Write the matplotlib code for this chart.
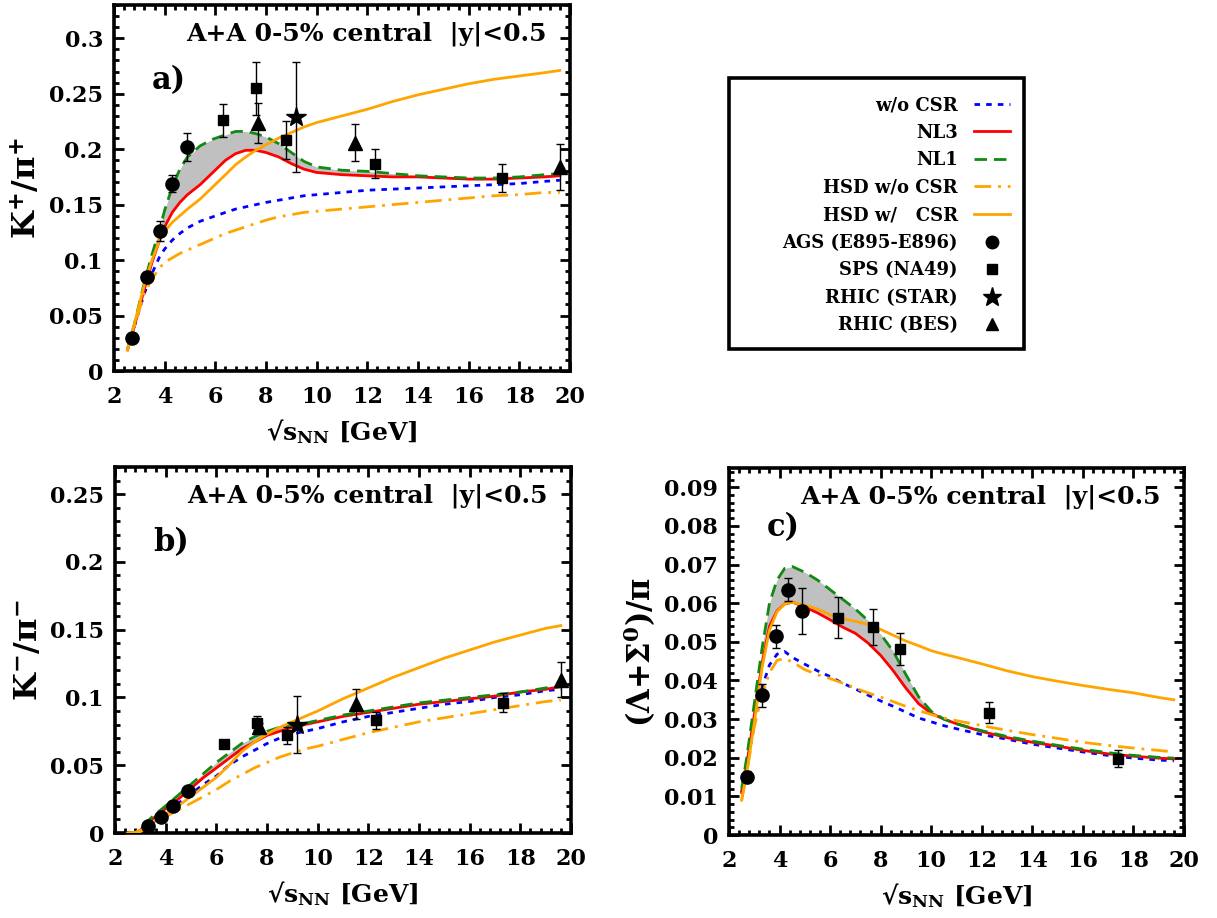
import matplotlib
matplotlib.use('Agg')
import matplotlib.pyplot as plt
from matplotlib.lines import Line2D
from matplotlib.patches import Rectangle
from matplotlib.ticker import MultipleLocator, FuncFormatter

plt.rcParams['font.family'] = ['DejaVu Serif']
plt.rcParams['font.weight'] = 'bold'
plt.rcParams['mathtext.fontset'] = 'dejavuserif'
plt.rcParams['mathtext.default'] = 'bf'

# ---------------- Panel a: K+/pi+ ----------------
xa = [2.53, 2.8, 3.2, 3.5, 3.8, 4.0, 4.3, 4.6, 4.9, 5.4, 5.9, 6.4, 6.8, 7.2, 7.6,
      8.0, 8.5, 9.0, 9.5, 10.0, 11, 12, 13, 14, 15, 16, 17, 18, 19, 19.6]
a_nl1 = [0.019, 0.042, 0.080, 0.105, 0.128, 0.145, 0.166, 0.182, 0.193, 0.203, 0.209, 0.213,
         0.216, 0.216, 0.214, 0.211, 0.205, 0.197, 0.189, 0.184, 0.181, 0.180, 0.178, 0.176,
         0.175, 0.174, 0.174, 0.175, 0.177, 0.178]
a_nl3 = [0.019, 0.040, 0.074, 0.098, 0.118, 0.130, 0.143, 0.152, 0.159, 0.168, 0.179, 0.190,
         0.196, 0.199, 0.199, 0.197, 0.193, 0.187, 0.182, 0.179, 0.177, 0.176, 0.175, 0.175,
         0.174, 0.173, 0.173, 0.174, 0.175, 0.176]
a_wo = [0.019, 0.040, 0.070, 0.088, 0.103, 0.110, 0.118, 0.124, 0.129, 0.135, 0.139, 0.143,
        0.146, 0.148, 0.150, 0.152, 0.154, 0.156, 0.158, 0.159, 0.161, 0.163, 0.164, 0.165,
        0.166, 0.167, 0.168, 0.169, 0.171, 0.172]
a_hsd_wo = [0.019, 0.040, 0.070, 0.083, 0.093, 0.098, 0.102, 0.106, 0.109, 0.114, 0.119, 0.124,
            0.127, 0.130, 0.133, 0.136, 0.139, 0.141, 0.143, 0.144, 0.146, 0.148, 0.150, 0.152,
            0.154, 0.156, 0.158, 0.159, 0.161, 0.161]
a_hsd_w = [0.019, 0.042, 0.078, 0.100, 0.118, 0.126, 0.134, 0.140, 0.146, 0.155, 0.166, 0.177,
           0.186, 0.193, 0.199, 0.204, 0.210, 0.215, 0.220, 0.224, 0.230, 0.236, 0.243, 0.249,
           0.254, 0.259, 0.263, 0.266, 0.269, 0.271]
a_ags_x = [2.7, 3.3, 3.8, 4.3, 4.9]
a_ags_y = [0.030, 0.085, 0.126, 0.169, 0.202]
a_ags_e = [0.003, 0.004, 0.009, 0.008, 0.013]
a_sps_x = [6.3, 7.6, 8.8, 12.3, 17.3]
a_sps_y = [0.226, 0.255, 0.208, 0.187, 0.174]
a_sps_e = [0.015, 0.024, 0.017, 0.013, 0.013]
a_star_x = [9.2]
a_star_y = [0.229]
a_star_e = [0.050]
a_bes_x = [7.7, 11.5, 19.6]
a_bes_y = [0.224, 0.206, 0.184]
a_bes_e = [0.018, 0.017, 0.021]

# ---------------- Panel b: K-/pi- ----------------
xb = [2.5, 2.8, 3.0, 3.3, 3.6, 4.0, 4.5, 5.0, 5.5, 6.0, 6.5, 7.0, 7.5, 8.0, 8.5, 9.0, 9.5,
      10, 11, 12, 13, 14, 15, 16, 17, 18, 19, 19.6]
b_hsd_w = [0.0, 0.0005, 0.002, 0.005, 0.009, 0.014, 0.020, 0.027, 0.034, 0.041, 0.050, 0.060,
           0.067, 0.073, 0.078, 0.082, 0.086, 0.090, 0.099, 0.107, 0.115, 0.122, 0.129, 0.135,
           0.141, 0.146, 0.151, 0.153]
b_nl1 = [0.0, 0.0, 0.002, 0.009, 0.014, 0.020, 0.028, 0.036, 0.044, 0.052, 0.059, 0.066, 0.071,
         0.075, 0.078, 0.080, 0.081, 0.083, 0.087, 0.090, 0.093, 0.096, 0.098, 0.100, 0.102,
         0.104, 0.107, 0.108]
b_nl3 = [0.0, 0.0, 0.002, 0.008, 0.012, 0.018, 0.025, 0.033, 0.041, 0.048, 0.055, 0.062, 0.067,
         0.072, 0.075, 0.078, 0.080, 0.082, 0.086, 0.089, 0.092, 0.095, 0.097, 0.099, 0.101,
         0.104, 0.106, 0.108]
b_wo = [0.0, 0.0, 0.002, 0.007, 0.011, 0.016, 0.022, 0.029, 0.036, 0.042, 0.050, 0.056, 0.061,
        0.066, 0.070, 0.073, 0.075, 0.077, 0.082, 0.086, 0.089, 0.092, 0.095, 0.097, 0.100,
        0.102, 0.105, 0.106]
b_hsd_wo = [0.0, 0.0, 0.001, 0.004, 0.008, 0.012, 0.017, 0.022, 0.027, 0.032, 0.038, 0.043,
            0.048, 0.052, 0.056, 0.059, 0.062, 0.064, 0.069, 0.074, 0.078, 0.082, 0.085, 0.088,
            0.091, 0.094, 0.097, 0.098]
b_ags_x = [3.3, 3.8, 4.3, 4.9]
b_ags_y = [0.005, 0.012, 0.020, 0.031]
b_ags_e = [0.001, 0.001, 0.002, 0.002]
b_sps_x = [6.3, 7.6, 8.8, 12.3, 17.3]
b_sps_y = [0.066, 0.081, 0.072, 0.083, 0.096]
b_sps_e = [0.002, 0.005, 0.006, 0.006, 0.007]
b_star_x = [9.2]
b_star_y = [0.080]
b_star_e = [0.021]
b_bes_x = [7.7, 11.5, 19.6]
b_bes_y = [0.078, 0.095, 0.113]
b_bes_e = [0.003, 0.011, 0.013]

# ---------------- Panel c: (Lambda+Sigma0)/pi ----------------
xc = [2.5, 2.7, 3.0, 3.3, 3.6, 3.9, 4.2, 4.5, 5.0, 5.5, 6.0, 6.5, 7.0, 7.5, 8.0, 8.5, 9.0,
      9.5, 10, 10.5, 11, 12, 13, 14, 15, 16, 17, 18, 19, 19.6]
c_nl1 = [0.012, 0.020, 0.034, 0.048, 0.060, 0.066, 0.069, 0.0695, 0.068, 0.066, 0.0635, 0.061,
         0.0585, 0.0555, 0.052, 0.0475, 0.0415, 0.0358, 0.032, 0.0300, 0.0288, 0.027, 0.0255,
         0.0243, 0.0232, 0.0222, 0.0213, 0.0206, 0.0201, 0.0199]
c_nl3 = [0.011, 0.018, 0.031, 0.044, 0.054, 0.058, 0.0598, 0.0603, 0.059, 0.0575, 0.0557,
         0.0538, 0.0522, 0.0497, 0.0465, 0.0425, 0.0380, 0.0340, 0.0315, 0.0300, 0.0288, 0.0268,
         0.0252, 0.024, 0.023, 0.0219, 0.021, 0.0204, 0.0199, 0.0197]
c_hsd_w = [0.009, 0.016, 0.029, 0.043, 0.053, 0.0578, 0.0598, 0.0602, 0.0595, 0.0585, 0.057,
           0.056, 0.0553, 0.0545, 0.0532, 0.0517, 0.0502, 0.049, 0.0477, 0.0468, 0.046, 0.0443,
           0.0425, 0.041, 0.0398, 0.0387, 0.0377, 0.0368, 0.0356, 0.035]
c_wo = [0.011, 0.018, 0.030, 0.038, 0.044, 0.0468, 0.0475, 0.046, 0.0442, 0.0425, 0.041,
        0.0393, 0.0378, 0.0362, 0.0347, 0.0333, 0.0318, 0.0303, 0.0293, 0.0283, 0.0275, 0.026,
        0.0248, 0.0235, 0.0225, 0.0215, 0.0206, 0.0199, 0.0194, 0.0192]
c_hsd_wo = [0.009, 0.016, 0.028, 0.036, 0.042, 0.0452, 0.0457, 0.0448, 0.0428, 0.0415, 0.0405,
            0.0393, 0.038, 0.0368, 0.0357, 0.0345, 0.0333, 0.0322, 0.0312, 0.0303, 0.0296,
            0.0283, 0.0271, 0.026, 0.025, 0.024, 0.0232, 0.0225, 0.0219, 0.0215]
c_ags_x = [2.7, 3.3, 3.85, 4.35, 4.9]
c_ags_y = [0.0151, 0.0362, 0.0514, 0.0635, 0.0580]
c_ags_e = [0.0015, 0.0030, 0.0030, 0.0030, 0.0060]
c_sps_x = [6.3, 7.7, 8.75, 12.3, 17.4]
c_sps_y = [0.0563, 0.0539, 0.0481, 0.0317, 0.0198]
c_sps_e = [0.0052, 0.0047, 0.0042, 0.0028, 0.0022]

labels = ['w/o CSR', 'NL3', 'NL1', 'HSD w/o CSR', 'HSD w/   CSR',
          'AGS (E895-E896)', 'SPS (NA49)', 'RHIC (STAR)', 'RHIC (BES)']

BLUE = '#0000ff'
RED = '#ff0000'
GREEN = '#118a11'
ORANGE = '#ffa500'
LW = 2.0

fig = plt.figure(figsize=(12.17, 9.18), dpi=100)
W, H = 1217.0, 918.0


def px_axes(l, t, r, b):
    return fig.add_axes([l / W, 1 - b / H, (r - l) / W, (b - t) / H])


gfmt = FuncFormatter(lambda v, p: '%g' % round(v, 6))


def style(ax, ymax, ymaj, ymin):
    ax.set_xlim(2, 20)
    ax.set_ylim(0, ymax)
    ax.xaxis.set_major_locator(MultipleLocator(2))
    ax.xaxis.set_minor_locator(MultipleLocator(0.4))
    ax.yaxis.set_major_locator(MultipleLocator(ymaj))
    ax.yaxis.set_minor_locator(MultipleLocator(ymin))
    ax.yaxis.set_major_formatter(gfmt)
    ax.tick_params(which='both', direction='in', top=True, right=True, width=2.0)
    ax.tick_params(which='major', length=7, labelsize=16, pad=8)
    ax.tick_params(axis='x', which='major', pad=11)
    ax.tick_params(which='minor', length=3.5)
    for s in ax.spines.values():
        s.set_linewidth(2.6)
    for lab in ax.get_xticklabels() + ax.get_yticklabels():
        lab.set_fontweight('bold')
    ax.set_xlabel('√$s_{NN}$ [GeV]', fontsize=18, fontweight='bold', labelpad=6)
    ax.text(0.948, 0.922, 'A+A 0-5% central  |y|<0.5', transform=ax.transAxes,
            ha='right', va='center', fontsize=18, fontweight='bold')


def curves(ax, x, wo, nl3, nl1, hwo, hw):
    ax.fill_between(x, nl3, nl1, color='#c0c0c0', lw=0, zorder=1)
    l1, = ax.plot(x, wo, color=BLUE, lw=LW, dashes=(2, 2.2), zorder=3)
    l2, = ax.plot(x, nl3, color=RED, lw=LW, zorder=3)
    l3, = ax.plot(x, nl1, color=GREEN, lw=LW, dashes=(4.5, 2.5), zorder=3)
    l4, = ax.plot(x, hwo, color=ORANGE, lw=LW, dashes=(6, 2.5, 1, 2.5), zorder=3)
    l5, = ax.plot(x, hw, color=ORANGE, lw=LW, zorder=3)
    return [l1, l2, l3, l4, l5]


def data(ax, x, y, e, marker, ms):
    ax.errorbar(x, y, yerr=e, fmt=marker, color='black', ms=ms, elinewidth=1.0,
                capsize=3, capthick=1.0, zorder=5)


# Panel a
axa = px_axes(114, 5, 570, 371)
handles = curves(axa, xa, a_wo, a_nl3, a_nl1, a_hsd_wo, a_hsd_w)
data(axa, a_ags_x, a_ags_y, a_ags_e, 'o', 9.5)
data(axa, a_sps_x, a_sps_y, a_sps_e, 's', 7.5)
data(axa, a_star_x, a_star_y, a_star_e, '*', 15)
data(axa, a_bes_x, a_bes_y, a_bes_e, '^', 9.5)
style(axa, 0.33, 0.05, 0.01)
axa.set_ylabel('$K^{+}/\\pi^{+}$', fontsize=23, labelpad=4)
axa.text(3.5, 0.262, 'a)', fontsize=22, fontweight='bold', ha='left', va='center')

# Panel b
axb = px_axes(115, 467, 571, 833)
curves(axb, xb, b_wo, b_nl3, b_nl1, b_hsd_wo, b_hsd_w)
data(axb, b_ags_x, b_ags_y, b_ags_e, 'o', 9.5)
data(axb, b_sps_x, b_sps_y, b_sps_e, 's', 7.5)
data(axb, b_star_x, b_star_y, b_star_e, '*', 15)
data(axb, b_bes_x, b_bes_y, b_bes_e, '^', 9.5)
style(axb, 0.27, 0.05, 0.01)
axb.set_ylabel('$K^{-}/\\pi^{-}$', fontsize=23, labelpad=4)
axb.text(3.5, 0.214, 'b)', fontsize=22, fontweight='bold', ha='left', va='center')

# Panel c
axc = px_axes(729, 468, 1184, 835)
curves(axc, xc, c_wo, c_nl3, c_nl1, c_hsd_wo, c_hsd_w)
data(axc, c_ags_x, c_ags_y, c_ags_e, 'o', 9.5)
data(axc, c_sps_x, c_sps_y, c_sps_e, 's', 7.5)
style(axc, 0.095, 0.01, 0.002)
axc.set_ylabel('$(\\Lambda{+}\\Sigma^{0})/\\pi$', fontsize=22, labelpad=4)
axc.text(3.5, 0.0796, 'c)', fontsize=22, fontweight='bold', ha='left', va='center')

# Legend
proxies = [Line2D([], [], ls='none', marker=m, color='black', ms=s)
           for m, s in [('o', 9), ('s', 7), ('*', 14), ('^', 9)]]
fig.add_artist(Rectangle((729 / W, 1 - 349 / H), (1024 - 729) / W, (349 - 78) / H,
                         transform=fig.transFigure, fill=False, lw=2.6, ec='black'))
fig.legend(handles + proxies, labels, loc='upper right',
           bbox_to_anchor=(1010 / W, 1 - 96 / H), frameon=False, markerfirst=False,
           borderpad=0, borderaxespad=0, handlelength=2.0,
           handletextpad=0.9, labelspacing=0.53, prop={'weight': 'bold', 'size': 13})

fig.savefig('out.png', dpi=100)
